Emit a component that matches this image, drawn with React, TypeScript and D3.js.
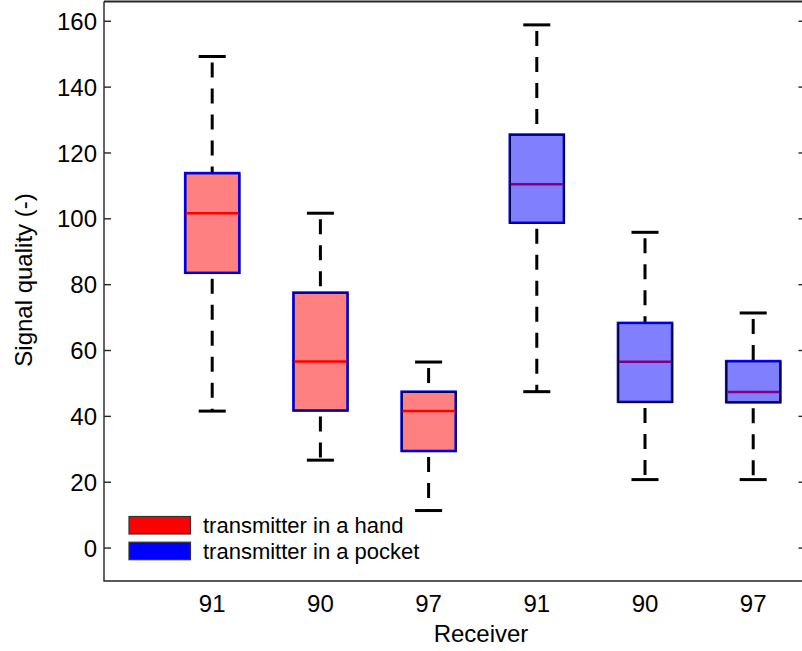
import * as d3 from 'd3'

const receivers = ['91', '90', '97', '91', '90', '97']
const groups = ['hand', 'hand', 'hand', 'pocket', 'pocket', 'pocket']
const whiskerLow = [41.6, 26.7, 11.4, 47.5, 20.8, 20.8]
const quartile1 = [83.6, 41.8, 29.5, 98.8, 44.4, 44.3]
const medians = [101.7, 56.7, 41.6, 110.5, 56.6, 47.4]
const quartile3 = [113.9, 77.6, 47.5, 125.6, 68.4, 56.8]
const whiskerHigh = [149.3, 101.7, 56.5, 158.9, 95.9, 71.4]
const yTicks = [0, 20, 40, 60, 80, 100, 120, 140, 160]
const legendLabels = ['transmitter in a hand', 'transmitter in a pocket']

const FILL: Record<string, string> = {hand: '#ff8080', pocket: '#8080ff'}
const MEDIAN: Record<string, string> = {hand: '#ff0000', pocket: '#800080'}
const LEGEND = ['#ff0000', '#0000ff']
const FONT = '"Liberation Sans", Arial, Helvetica, sans-serif'

export default function App() {
  const width = 802
  const height = 651
  const left = 104
  const right = 806
  const top = 1.5
  const bottom = 581

  const x = d3.scaleLinear().domain([0, 6.5]).range([left, left + 6.5 * 108.2])
  const y = d3.scaleLinear().domain([-10, 166]).range([bottom, top])

  const boxW = x(0.5) - x(0)
  const capW = x(0.25) - x(0)
  const line = d3.line()

  return (
    <svg
      width={width}
      height={height}
      style={{position: 'absolute', left: 0, top: 0, background: '#fff'}}
      fontFamily={FONT}
    >
      {/* boxes */}
      {receivers.map((r, i) => {
        const cx = x(i + 1)
        const g = groups[i]
        return (
          <g key={i}>
            <path
              d={line([[cx, y(whiskerHigh[i])], [cx, y(quartile3[i])]]) ?? undefined}
              stroke="#000"
              strokeWidth={3}
              strokeDasharray="15 11"
              strokeDashoffset={20}
            />
            <path
              d={line([[cx, y(quartile1[i])], [cx, y(whiskerLow[i])]]) ?? undefined}
              stroke="#000"
              strokeWidth={3}
              strokeDasharray="15 11"
              strokeDashoffset={20}
            />
            <path
              d={line([[cx - capW / 2, y(whiskerHigh[i])], [cx + capW / 2, y(whiskerHigh[i])]]) ?? undefined}
              stroke="#000"
              strokeWidth={3}
            />
            <path
              d={line([[cx - capW / 2, y(whiskerLow[i])], [cx + capW / 2, y(whiskerLow[i])]]) ?? undefined}
              stroke="#000"
              strokeWidth={3}
            />
            <rect
              x={cx - boxW / 2}
              y={y(quartile3[i])}
              width={boxW}
              height={y(quartile1[i]) - y(quartile3[i])}
              fill={FILL[g]}
              stroke="#0000ff"
              strokeWidth={2.5}
            />
            <rect
              x={cx - boxW / 2 + 0.6}
              y={y(quartile3[i]) + 0.6}
              width={boxW}
              height={y(quartile1[i]) - y(quartile3[i])}
              fill="none"
              stroke="#000"
              strokeWidth={1.2}
              opacity={0.8}
            />
            <path
              d={line([[cx - boxW / 2 + 1, y(medians[i])], [cx + boxW / 2 - 1, y(medians[i])]]) ?? undefined}
              stroke={MEDIAN[g]}
              strokeWidth={2.5}
            />
            <text x={cx} y={612} textAnchor="middle" fontSize={24} fill="#000">
              {r}
            </text>
          </g>
        )
      })}

      {/* frame */}
      <path
        d={line([[left, top], [left, bottom], [right, bottom]]) ?? undefined}
        fill="none"
        stroke="#262626"
        strokeWidth={1.4}
      />
      <path
        d={line([[left, top], [right, top]]) ?? undefined}
        stroke="#262626"
        strokeWidth={1.8}
      />
      <path d={line([[right, top], [right, bottom]]) ?? undefined} stroke="#262626" strokeWidth={1.4} />

      {/* y ticks */}
      {yTicks.map(t => (
        <g key={t}>
          <path d={line([[left, y(t)], [left + 7, y(t)]]) ?? undefined} stroke="#262626" strokeWidth={1.4} />
          <path d={line([[right - 7.5, y(t)], [right, y(t)]]) ?? undefined} stroke="#262626" strokeWidth={1.4} />
          <text x={97} y={y(t) + 8.6} textAnchor="end" fontSize={24} fill="#000">
            {t}
          </text>
        </g>
      ))}

      {/* axis titles */}
      <text x={481} y={642} textAnchor="middle" fontSize={24} fill="#000">
        Receiver
      </text>
      <text
        transform={`translate(32, 280) rotate(-90)`}
        textAnchor="middle"
        fontSize={24}
        fill="#000"
      >
        Signal quality (-)
      </text>

      {/* legend */}
      {legendLabels.map((lbl, i) => (
        <g key={lbl} transform={`translate(0, ${i * 25.7})`}>
          <rect x={129} y={516.5} width={61.5} height={17.5} fill={LEGEND[i]} stroke="#333" strokeWidth={1.2} />
          <text x={203} y={533} fontSize={22} fill="#000">
            {lbl}
          </text>
        </g>
      ))}
    </svg>
  )
}
